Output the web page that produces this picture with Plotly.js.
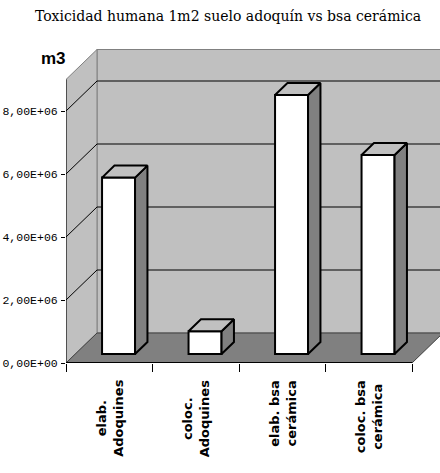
<!DOCTYPE html>
<html>
<head>
<meta charset="utf-8">
<script src="https://cdn.plot.ly/plotly-3.0.1.min.js"></script>
<style>html,body{margin:0;padding:0;background:#fff;}#chart{width:440px;height:473px;}</style>
</head>
<body>
<div id="chart"></div>
<script>
// ---- data ----
const categories = ["elab. Adoquines", "coloc. Adoquines", "elab. bsa cerámica", "coloc. bsa cerámica"];
const categoryLabels = ["elab.<br>Adoquines", "coloc.<br>Adoquines", "elab. bsa<br>cerámica", "coloc. bsa<br>cerámica"];
const values = [5.6e6, 0.72e6, 8.22e6, 6.32e6];
const yTickVals = [0, 2e6, 4e6, 6e6, 8e6];
const yTickText = ["0,00E+00", "2,00E+06", "4,00E+06", "6,00E+06", "8,00E+06"];
const axisMax = 9e6;
const titleText = "Toxicidad humana 1m2 suelo adoquín vs bsa cerámica";
const unitLabel = "m3";

// ---- geometry (pixel based 3D projection) ----
const W = 440, H = 473;
const M = {l: 66, r: 0, t: 32, b: 110};
const plotW = W - M.l - M.r, plotH = H - M.t - M.b;
const pxPerCat = 86.5, pxPerUnit = 31.5 / 1e6;
const xRange = [-0.5, -0.5 + plotW / pxPerCat];
const yRange = [0, plotH / pxPerUnit];
const Dx = 31 / pxPerCat, Dy = 30 / pxPerUnit;   // full depth offset
const f1 = 0.3, f2 = 0.7;                        // bar front/back depth
const bw = 33 / pxPerCat;                        // bar width
const n = categories.length;
const xL = -0.5, xR = n - 0.5;

function path(pts) { return 'M' + pts.map(q => q[0] + ',' + q[1]).join('L') + 'Z'; }
function line(x0, y0, x1, y1, color, width) {
  return {type: 'line', xref: 'x', yref: 'y', x0, y0, x1, y1, layer: 'below',
          line: {color, width}};
}

const shapes = [];
// back wall
shapes.push({type: 'path', xref: 'x', yref: 'y', layer: 'below',
  path: path([[xL + Dx, Dy], [xR + Dx + 0.6, Dy], [xR + Dx + 0.6, Dy + axisMax], [xL + Dx, Dy + axisMax]]),
  fillcolor: '#c0c0c0', line: {color: '#808080', width: 1}});
// left wall
shapes.push({type: 'path', xref: 'x', yref: 'y', layer: 'below',
  path: path([[xL, 0], [xL + Dx, Dy], [xL + Dx, Dy + axisMax], [xL, axisMax]]),
  fillcolor: '#c0c0c0', line: {color: '#808080', width: 1}});
// floor
shapes.push({type: 'path', xref: 'x', yref: 'y', layer: 'below',
  path: path([[xL, 0], [xR, 0], [xR + Dx, Dy], [xL + Dx, Dy]]),
  fillcolor: '#808080', line: {color: '#404040', width: 1}});
// gridlines on walls
yTickVals.slice(1).forEach(v => {
  shapes.push(line(xL + Dx, Dy + v, xR + Dx + 0.6, Dy + v, '#000', 1));
  shapes.push(line(xL, v, xL + Dx, Dy + v, '#000', 1));
});
// front axes
shapes.push(line(xL, 0, xL, axisMax, '#000', 1));
shapes.push(line(xL, 0, xR, 0, '#000', 2));

// ---- bar faces ----
const frontX = values.map((v, i) => i + f1 * Dx);
const frontBase = values.map(() => f1 * Dy);
const sideX = [], sideY = [], topX = [], topY = [];
values.forEach((v, i) => {
  const l = i - bw / 2, r = i + bw / 2;
  const sp = [[r + f1 * Dx, f1 * Dy], [r + f2 * Dx, f2 * Dy], [r + f2 * Dx, f2 * Dy + v], [r + f1 * Dx, f1 * Dy + v], [r + f1 * Dx, f1 * Dy]];
  sp.forEach(p => { sideX.push(p[0]); sideY.push(p[1]); });
  sideX.push(null); sideY.push(null);
  const tp = [[l + f1 * Dx, f1 * Dy + v], [r + f1 * Dx, f1 * Dy + v], [r + f2 * Dx, f2 * Dy + v], [l + f2 * Dx, f2 * Dy + v], [l + f1 * Dx, f1 * Dy + v]];
  tp.forEach(p => { topX.push(p[0]); topY.push(p[1]); });
  topX.push(null); topY.push(null);
});

const traces = [
  {type: 'bar', x: frontX, y: values, base: frontBase, width: bw, hovertext: categories,
   textposition: 'none',
   marker: {color: '#ffffff', line: {color: '#000', width: 2}}, hoverinfo: 'skip', showlegend: false},
  {type: 'scatter', mode: 'lines', x: sideX, y: sideY, fill: 'toself', fillcolor: '#808080',
   line: {color: '#000', width: 2}, hoverinfo: 'skip', showlegend: false},
  {type: 'scatter', mode: 'lines', x: topX, y: topY, fill: 'toself', fillcolor: '#c0c0c0',
   line: {color: '#000', width: 2}, hoverinfo: 'skip', showlegend: false}
];

const annotations = categoryLabels.map((t, i) => ({
  text: t, x: i, xref: 'x', y: -15 / plotH, yref: 'paper',
  xanchor: 'center', yanchor: 'top', textangle: -90, align: 'center', showarrow: false,
  font: {family: 'DejaVu Sans', size: 13, color: '#000', weight: 'bold'}
}));
annotations.push({text: '<b>' + unitLabel + '</b>', xref: 'paper', yref: 'paper',
  x: (53 - M.l) / plotW, y: (H - M.b - 58) / plotH, xanchor: 'center', yanchor: 'middle', showarrow: false,
  font: {family: 'Liberation Sans', size: 17, color: '#000'}});

const layout = {
  width: W, height: H, margin: M,
  paper_bgcolor: '#fff', plot_bgcolor: 'rgba(0,0,0,0)',
  title: {text: titleText, xref: 'container', yref: 'container', x: 228 / W, xanchor: 'center',
          y: 1 - 11 / H, yanchor: 'top', font: {family: 'DejaVu Serif', size: 14, color: '#000'}},
  xaxis: {type: 'linear', range: xRange, showgrid: false, zeroline: false, showline: false,
          tickmode: 'array', tickvals: [-0.5, 0.5, 1.5, 2.5, 3.5], ticks: 'outside', ticklen: 8,
          tickcolor: '#000', tickwidth: 1, showticklabels: false, fixedrange: true},
  yaxis: {type: 'linear', range: yRange, showgrid: false, zeroline: false, showline: false,
          tickmode: 'array', tickvals: yTickVals, ticktext: yTickText, ticks: 'outside', ticklen: 4,
          tickcolor: '#000', tickwidth: 1, ticklabelstandoff: 1,
          tickfont: {family: 'Liberation Mono', size: 11.5, color: '#000'}, fixedrange: true},
  shapes: shapes, annotations: annotations, bargap: 0, showlegend: false
};

Plotly.newPlot('chart', traces, layout, {staticPlot: true, displayModeBar: false});
</script>
</body>
</html>
